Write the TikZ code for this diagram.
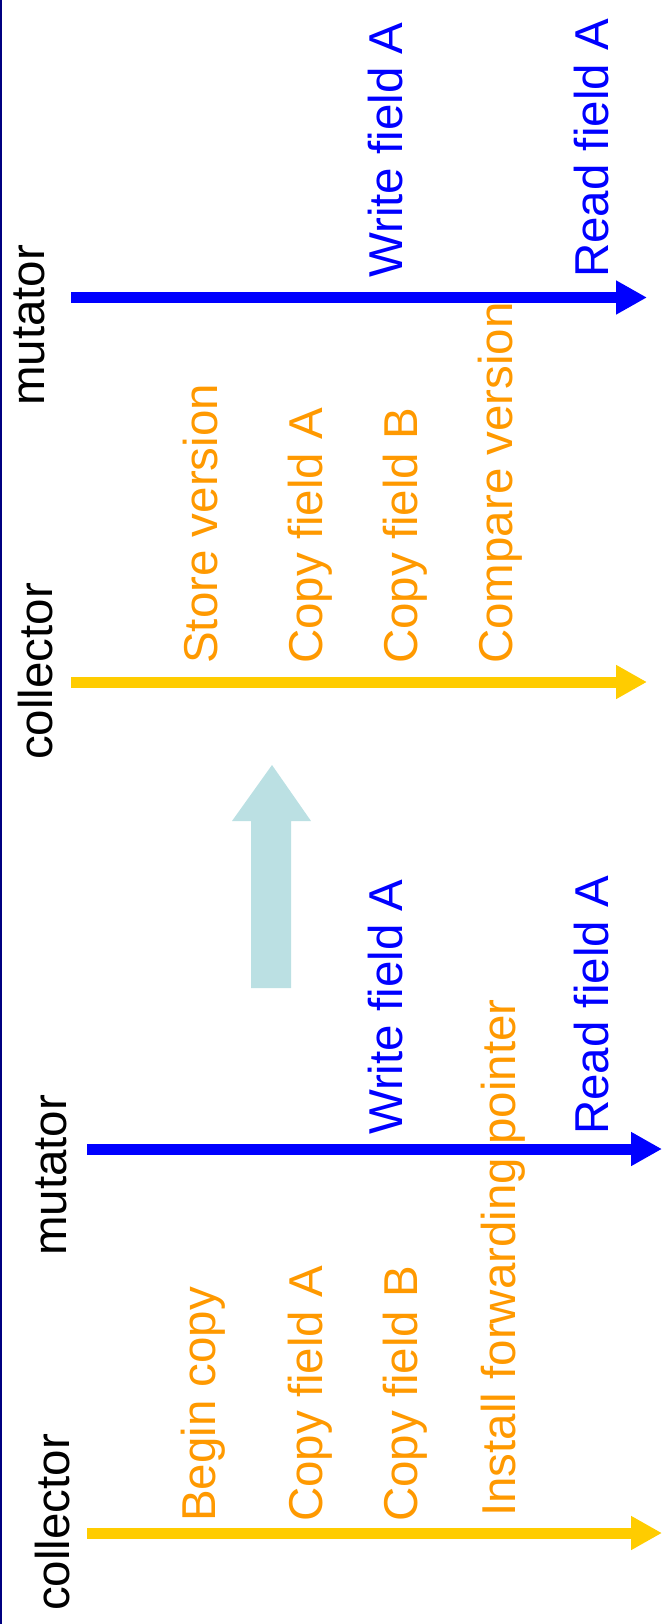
\documentclass[tikz,border=0pt]{standalone}
\usepackage{fontspec}
\setmainfont{Liberation Sans}
\usetikzlibrary{arrows.meta}
\definecolor{lineblue}{RGB}{0,0,255}
\definecolor{lineyellow}{RGB}{255,204,0}
\definecolor{steporange}{RGB}{255,153,0}
\definecolor{hintteal}{RGB}{187,224,227}
\definecolor{edgenavy}{RGB}{0,0,128}

\begin{document}
\begin{tikzpicture}[x=1pt,y=-1pt,
  timeline/.style={line width=11pt, -{Triangle[length=31pt,width=32pt]}},
  lbl/.style={rotate=90, anchor=base west, inner sep=0pt, font=\fontsize{47.5}{57}\selectfont},
  actor/.style={lbl, text=black},
  coll/.style={lbl, text=steporange},
  mut/.style={lbl, text=lineblue}]
\useasboundingbox (0,0) rectangle (662,1624);
% thin frame edge on the left
\draw[edgenavy, line width=1.5pt] (0.75,0) -- (0.75,1624);

% ---- upper scenario: versioned copy ----
\coordinate (tmS) at (71,297.5);  \coordinate (tmE) at (647,297.5);
\coordinate (tcS) at (71,682);    \coordinate (tcE) at (647,682);
\draw[timeline, lineblue]   (tmS) -- (tmE);
\draw[timeline, lineyellow] (tcS) -- (tcE);

\node[actor] (tmLabel) at (44,406) {mutator};
\node[actor] (tcLabel) at (52,760) {collector};

\node[mut] (tmWrite) at (402,278) {Write field A};
\node[mut] (tmRead)  at (608,278) {Read field A};

\node[coll] (tcStore)   at (217,664) {Store version};
\node[coll] (tcCopyA)   at (322,664) {Copy field A};
\node[coll] (tcCopyB)   at (417,664) {Copy field B};
\node[coll] (tcCompare) at (512,664) {Compare version};

% ---- transition arrow ----
\fill[hintteal] (251,988) -- (251,821) -- (232,821) -- (272,765)
  -- (311,821) -- (291,821) -- (291,988) -- cycle;

% ---- lower scenario: forwarding pointer ----
\coordinate (bmS) at (87,1149);  \coordinate (bmE) at (662,1149);
\coordinate (bcS) at (87,1533);  \coordinate (bcE) at (662,1533);
\draw[timeline, lineblue]   (bmS) -- (bmE);
\draw[timeline, lineyellow] (bcS) -- (bcE);

\node[actor] (bmLabel) at (66,1256) {mutator};
\node[actor] (bcLabel) at (69,1611) {collector};

\node[mut] (bmWrite) at (402,1135) {Write field A};
\node[mut] (bmRead)  at (608,1135) {Read field A};

\node[coll] (bcBegin)   at (215,1522) {Begin copy};
\node[coll] (bcCopyA)   at (322,1522) {Copy field A};
\node[coll] (bcCopyB)   at (417,1522) {Copy field B};
\node[coll] (bcInstall) at (515,1517) {Install forwarding pointer};
\end{tikzpicture}
\end{document}
